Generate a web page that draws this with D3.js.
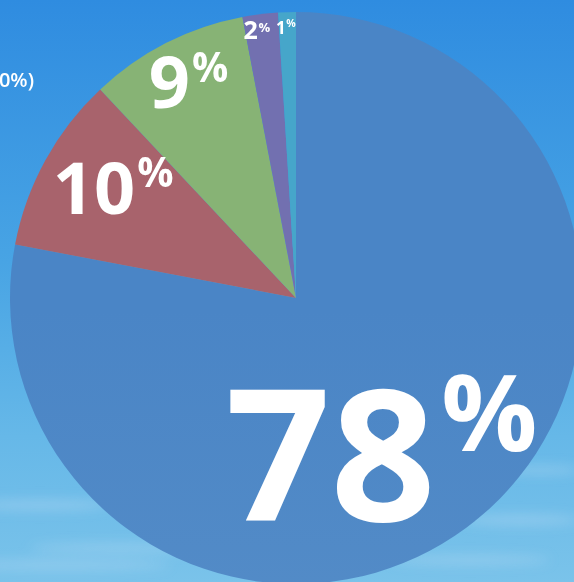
<!DOCTYPE html>
<html>
<head>
<meta charset="utf-8">
<script src="https://cdn.jsdelivr.net/npm/d3@7"></script>
<style>
  html, body { margin: 0; padding: 0; overflow: hidden; background: #3a97e2; }
  svg { display: block; }
</style>
</head>
<body>
<svg id="chart" width="574" height="582"></svg>
<script>
// Share of each slice, in percent, clockwise from twelve o'clock
const sliceKeys = ["a", "b", "c", "d", "e"];
const sliceValues = [78, 10, 9, 2, 1];
const sliceColors = ["#4d87c5", "#a8636c", "#87b375", "#7270b0", "#46a6ca"];
const sideNote = "0%)";

const width = 574, height = 582;
const cx = 296, cy = 298, radius = 286;

const svg = d3.select("#chart");
const defs = svg.append("defs");

// Sky background
const sky = defs.append("linearGradient").attr("id", "sky")
  .attr("x1", 0).attr("y1", 0).attr("x2", 0).attr("y2", 1);
sky.append("stop").attr("offset", "0%").attr("stop-color", "#2f8ce0");
sky.append("stop").attr("offset", "45%").attr("stop-color", "#48a4e4");
sky.append("stop").attr("offset", "75%").attr("stop-color", "#66b8e8");
sky.append("stop").attr("offset", "100%").attr("stop-color", "#7ac3ea");
svg.append("rect").attr("width", width).attr("height", height).attr("fill", "url(#sky)");

// faint cloud streaks low in the sky
const haze = defs.append("filter").attr("id", "haze")
  .attr("x", "-50%").attr("y", "-50%").attr("width", "200%").attr("height", "200%");
haze.append("feGaussianBlur").attr("stdDeviation", 6);
const streaks = [
  [40, 505, 70, 6], [120, 548, 90, 5], [60, 565, 110, 5],
  [520, 520, 60, 6], [540, 470, 40, 5], [470, 560, 80, 5]
];
svg.append("g").attr("filter", "url(#haze)")
  .selectAll("ellipse").data(streaks).join("ellipse")
  .attr("cx", d => d[0]).attr("cy", d => d[1])
  .attr("rx", d => d[2]).attr("ry", d => d[3])
  .attr("fill", "#cfe6f7").attr("opacity", 0.28);

// Large slice gets a gentle top-to-bottom shade
const shade = defs.append("linearGradient").attr("id", "mainShade")
  .attr("gradientUnits", "userSpaceOnUse")
  .attr("x1", 0).attr("y1", cy - radius).attr("x2", 0).attr("y2", cy + radius);
shade.append("stop").attr("offset", "0%").attr("stop-color", "#4a85c6");
shade.append("stop").attr("offset", "100%").attr("stop-color", "#5b91c8");

const slices = sliceKeys.map((k, i) => ({ key: k, value: sliceValues[i], color: sliceColors[i] }));

const pie = d3.pie().value(d => d.value).sort(null);
const arcs = pie(slices);
const arc = d3.arc().innerRadius(0).outerRadius(radius);

const g = svg.append("g").attr("transform", `translate(${cx},${cy})`);
g.selectAll("path.slice").data(arcs).join("path")
  .attr("class", "slice")
  .attr("d", arc)
  .attr("fill", (d, i) => i === 0 ? "url(#mainShade)" : d.data.color);

// Label placement: fraction of the radius and a small angular nudge (degrees)
const labelRadius = [0.92, 0.635, 0.76, 0.915, 0.925];
const labelNudge = [7.5, -1.2, -2.2, -1.2, -0.4];
const numberSize = [184, 72, 72, 25, 17];
const pctScale = [0.58, 0.56, 0.56, 0.52, 0.62];
const pctRise = [0.38, 0.37, 0.36, 0.28, 0.42];

const font = "'Open Sans', 'Lato', sans-serif";
const labels = g.selectAll("g.label").data(arcs).join("g").attr("class", "label")
  .attr("transform", (d, i) => {
    const a = (d.startAngle + d.endAngle) / 2 + labelNudge[i] * Math.PI / 180;
    const r = labelRadius[i] * radius;
    return `translate(${Math.sin(a) * r},${-Math.cos(a) * r})`;
  });

labels.append("text")
  .attr("text-anchor", "end")
  .attr("font-family", font)
  .attr("font-weight", 700)
  .attr("font-size", (d, i) => numberSize[i])
  .attr("fill", "#ffffff")
  .text(d => d.data.value);

labels.append("text")
  .attr("text-anchor", "start")
  .attr("x", (d, i) => numberSize[i] * 0.03)
  .attr("y", (d, i) => -numberSize[i] * pctRise[i])
  .attr("font-family", font)
  .attr("font-weight", 700)
  .attr("font-size", (d, i) => numberSize[i] * pctScale[i])
  .attr("fill", "#ffffff")
  .text("%");

// Note text at the left edge
svg.append("text")
  .attr("x", 34).attr("y", 87)
  .attr("text-anchor", "end")
  .attr("font-family", font)
  .attr("font-weight", 600)
  .attr("font-size", 20)
  .attr("fill", "#ffffff")
  .text(sideNote);
</script>
</body>
</html>
